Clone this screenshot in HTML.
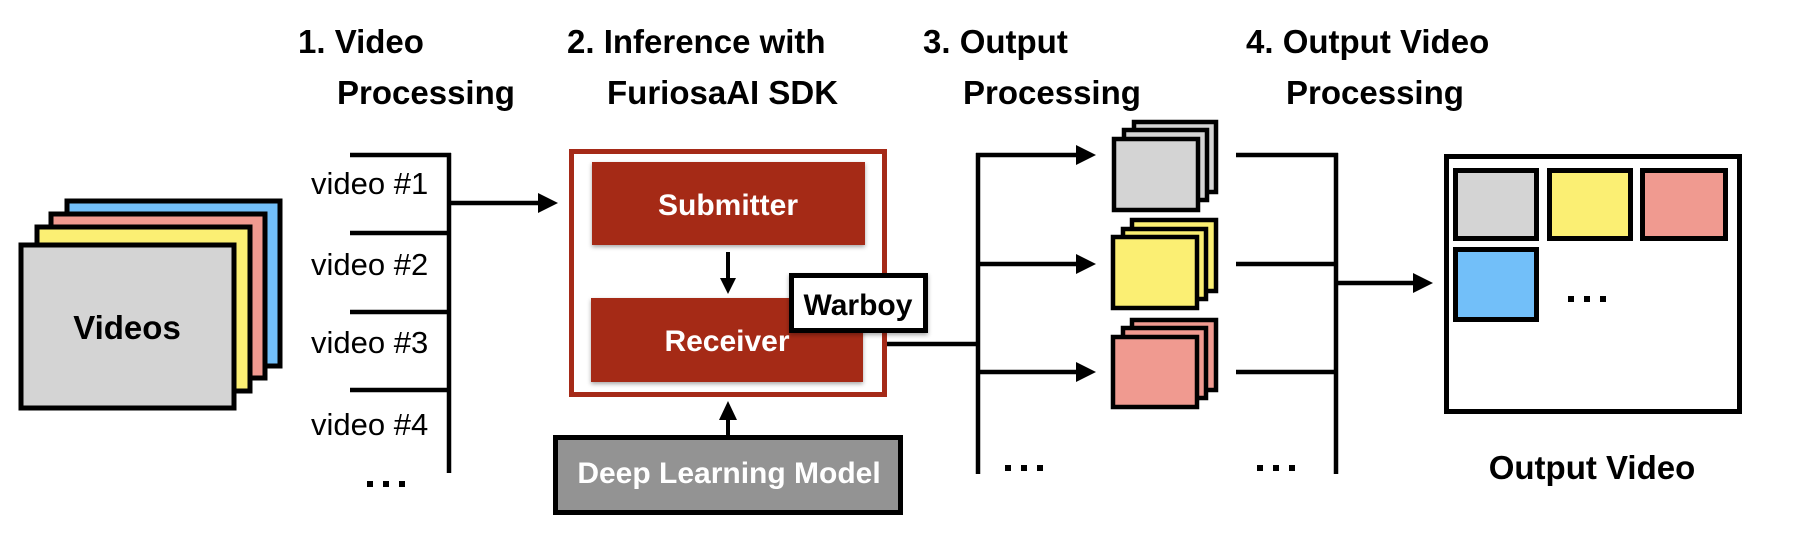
<!DOCTYPE html>
<html><head><meta charset="utf-8"><style>
html,body{margin:0;padding:0;background:#fff;}
svg{display:block;}
text{font-family:"Liberation Sans",Arial,sans-serif;}
</style></head><body>
<svg width="1806" height="560" viewBox="0 0 1806 560" xmlns="http://www.w3.org/2000/svg">
<defs>
<filter id="sh" x="-5%" y="-5%" width="112%" height="120%"><feDropShadow dx="0" dy="2" stdDeviation="2" flood-color="#000" flood-opacity="0.35"/></filter>
</defs>
<g font-weight="bold" font-size="33" fill="#000">
<text x="298" y="53">1. Video</text>
<text x="337" y="104">Processing</text>
<text x="567" y="53">2. Inference with</text>
<text x="607" y="104">FuriosaAI SDK</text>
<text x="923" y="53">3. Output</text>
<text x="963" y="104">Processing</text>
<text x="1246" y="53">4. Output Video</text>
<text x="1286" y="104">Processing</text>
</g>

<g stroke="#000" stroke-width="5">
<rect x="67" y="201" width="213" height="165" fill="#72bff9"/>
<rect x="51" y="214" width="214" height="164" fill="#f09a90"/>
<rect x="37" y="227" width="213" height="164" fill="#fbef73"/>
<rect x="21" y="245" width="213" height="163" fill="#d4d4d4"/>
</g>
<text x="127" y="339" text-anchor="middle" font-weight="bold" font-size="33">Videos</text>

<g stroke="#000" stroke-width="4.5" fill="none">
<line x1="449" y1="153" x2="449" y2="473"/>
<line x1="350" y1="155" x2="451" y2="155"/>
<line x1="350" y1="233" x2="451" y2="233"/>
<line x1="350" y1="312" x2="451" y2="312"/>
<line x1="350" y1="390" x2="451" y2="390"/>
<line x1="449" y1="203" x2="542" y2="203"/>
</g>
<polygon points="538,193 558,203 538,213" fill="#000"/>
<g font-size="31" fill="#000">
<text x="311" y="194">video #1</text>
<text x="311" y="275">video #2</text>
<text x="311" y="353">video #3</text>
<text x="311" y="435">video #4</text>
</g>
<g fill="#000"><rect x="367" y="481" width="6" height="6"/><rect x="383" y="481" width="6" height="6"/><rect x="399" y="481" width="6" height="6"/></g>

<rect x="571.5" y="151.5" width="313" height="243" fill="#fff" stroke="#a52a18" stroke-width="5"/>
<rect x="592" y="162" width="273" height="83" fill="#a52a18" filter="url(#sh)"/>
<text x="728" y="215" text-anchor="middle" font-weight="bold" font-size="30" fill="#fff">Submitter</text>
<line x1="728" y1="252" x2="728" y2="280" stroke="#000" stroke-width="4"/>
<polygon points="720,278 736,278 728,294" fill="#000"/>
<rect x="591" y="298" width="272" height="84" fill="#a52a18" filter="url(#sh)"/>
<text x="727" y="351" text-anchor="middle" font-weight="bold" font-size="30" fill="#fff">Receiver</text>
<rect x="791.5" y="275.5" width="134" height="55" fill="#fff" stroke="#000" stroke-width="5" filter="url(#sh)"/>
<text x="858" y="315" text-anchor="middle" font-size="30" font-weight="bold" fill="#000">Warboy</text>

<line x1="728" y1="416" x2="728" y2="437" stroke="#000" stroke-width="4"/>
<polygon points="719,420 737,420 728,401" fill="#000"/>
<rect x="555.5" y="437.5" width="345" height="75" fill="#939393" stroke="#000" stroke-width="5"/>
<text x="729" y="483" text-anchor="middle" font-weight="bold" font-size="30" fill="#fff">Deep Learning Model</text>

<g stroke="#000" stroke-width="4.5" fill="none">
<line x1="887" y1="344" x2="980" y2="344"/>
<line x1="978" y1="153" x2="978" y2="474"/>
<line x1="976" y1="155" x2="1082" y2="155"/>
<line x1="976" y1="264" x2="1082" y2="264"/>
<line x1="976" y1="372" x2="1082" y2="372"/>
</g>
<g fill="#000">
<polygon points="1076,145 1096,155 1076,165"/>
<polygon points="1076,254 1096,264 1076,274"/>
<polygon points="1076,362 1096,372 1076,382"/>
<rect x="1005" y="465" width="6" height="6"/><rect x="1021" y="465" width="6" height="6"/><rect x="1037" y="465" width="6" height="6"/>
<rect x="1257" y="465" width="6" height="6"/><rect x="1273" y="465" width="6" height="6"/><rect x="1289" y="465" width="6" height="6"/>
</g>

<g stroke="#000" stroke-width="4.5">
<rect x="1134" y="122" width="82" height="70" fill="#d4d4d4"/>
<rect x="1124" y="130" width="83" height="70" fill="#d4d4d4"/>
<rect x="1114" y="139" width="84" height="71" fill="#d4d4d4"/>
<rect x="1132" y="220" width="84" height="71" fill="#fbef73"/>
<rect x="1123" y="229" width="83" height="70" fill="#fbef73"/>
<rect x="1113" y="237" width="84" height="71" fill="#fbef73"/>
<rect x="1132" y="320" width="84" height="70" fill="#f09a90"/>
<rect x="1123" y="328" width="83" height="70" fill="#f09a90"/>
<rect x="1113" y="337" width="84" height="70" fill="#f09a90"/>
</g>

<g stroke="#000" stroke-width="4.5" fill="none">
<line x1="1236" y1="155" x2="1338" y2="155"/>
<line x1="1236" y1="264" x2="1338" y2="264"/>
<line x1="1236" y1="372" x2="1338" y2="372"/>
<line x1="1336" y1="153" x2="1336" y2="474"/>
<line x1="1336" y1="283" x2="1420" y2="283"/>
</g>
<polygon points="1413,273 1433,283 1413,293" fill="#000"/>

<rect x="1446.5" y="156.5" width="293" height="255" fill="#fff" stroke="#000" stroke-width="5"/>
<g stroke="#000" stroke-width="5">
<rect x="1455.5" y="170.5" width="81" height="68" fill="#d4d4d4"/>
<rect x="1549.5" y="170.5" width="81" height="68" fill="#fbef73"/>
<rect x="1642.5" y="170.5" width="83" height="68" fill="#f09a90"/>
<rect x="1455.5" y="249.5" width="81" height="70" fill="#72bff9"/>
</g>
<g fill="#000"><rect x="1568" y="296" width="6" height="6"/><rect x="1584" y="296" width="6" height="6"/><rect x="1600" y="296" width="6" height="6"/></g>
<text x="1592" y="479" text-anchor="middle" font-weight="bold" font-size="33">Output Video</text>
</svg>
</body></html>
